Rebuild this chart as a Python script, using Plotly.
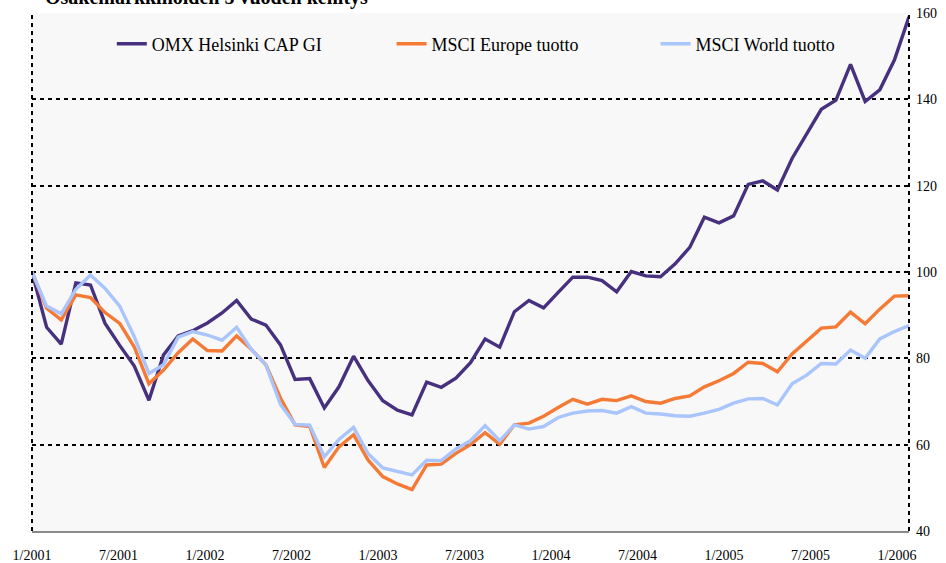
import plotly.graph_objects as go

# Monthly observations 1/2001 ... 1/2006 (index = months since 1/2001)
months = [f"{m}/{y}" for y in range(2001, 2007) for m in range(1, 13)][:61]

omx = [100, 87.2, 83.3, 97.5, 97.0, 88.1, 83.0, 78.2, 70.3, 80.8,
       85.2, 86.4, 88.2, 90.5, 93.4, 89.1, 87.7, 83.1, 75.1, 75.3,
       68.5, 73.4, 80.5, 74.8, 70.2, 68.0, 66.9, 74.5, 73.3, 75.4,
       79.0, 84.5, 82.6, 90.8, 93.4, 91.7, 95.3, 98.8, 98.8, 98.0,
       95.4, 100.1, 99.1, 98.9, 101.9, 105.7, 112.7, 111.4, 113.0, 120.3,
       121.1, 119.0, 126.3, 132.0, 137.7, 139.8, 148.1, 139.5, 142.2, 149.1,
       159.1]

europe = [100, 91.6, 88.9, 94.7, 94.1, 90.6, 88.1, 82.6, 74.1, 77.3,
          81.3, 84.5, 81.8, 81.7, 85.2, 82.1, 78.5, 70.8, 64.6, 64.2,
          54.7, 59.5, 62.3, 56.4, 52.6, 50.9, 49.6, 55.3, 55.5, 58.0,
          60.0, 62.8, 60.1, 64.6, 65.0, 66.6, 68.6, 70.5, 69.4, 70.5,
          70.2, 71.3, 70.0, 69.6, 70.7, 71.3, 73.4, 74.8, 76.5, 79.1,
          78.8, 76.9, 81.0, 83.9, 87.0, 87.3, 90.7, 88.0, 91.4, 94.4,
          94.5]

world = [100, 92.1, 90.3, 96.0, 99.3, 96.2, 92.1, 85.0, 76.5, 78.5,
         84.9, 86.2, 85.4, 84.2, 87.2, 82.1, 78.5, 69.3, 64.7, 64.5,
         57.2, 61.2, 64.0, 57.9, 54.6, 53.7, 53.0, 56.4, 56.3, 59.0,
         60.9, 64.4, 60.9, 64.6, 63.6, 64.2, 66.3, 67.3, 67.8, 67.9,
         67.3, 68.8, 67.3, 67.1, 66.7, 66.6, 67.3, 68.2, 69.6, 70.6,
         70.7, 69.2, 74.1, 76.1, 78.8, 78.7, 81.9, 80.0, 84.5, 86.2,
         87.6]

tick_labels = ["1/2001", "7/2001", "1/2002", "7/2002", "1/2003", "7/2003",
               "1/2004", "7/2004", "1/2005", "7/2005", "1/2006"]
y_ticks = [40, 60, 80, 100, 120, 140, 160]

series_names = ["OMX Helsinki CAP GI", "MSCI Europe tuotto", "MSCI World tuotto"]
colors = ["#47317F", "#F57A35", "#A9C5FC"]

x = list(range(len(omx)))
SERIF = "Liberation Serif"

fig = go.Figure()
legend_ids = ["legend", "legend2", "legend3"]
for vals, name, col, lg in zip([omx, europe, world], series_names, colors, legend_ids):
    fig.add_trace(go.Scatter(x=x, y=vals, mode="lines", name=name,
                             line=dict(color=col, width=3.4),
                             legend=lg, showlegend=True))

# label positions in the source are spaced slightly tighter than 6 months
label_pos = [i * 6 * 0.9863 for i in range(len(tick_labels))]

leg_common = dict(y=0.94, xanchor="left", yanchor="middle", orientation="h",
                  bgcolor="rgba(0,0,0,0)", font=dict(size=18, family=SERIF))

fig.update_layout(
    width=946, height=563,
    margin=dict(l=32, r=37, t=13, b=32, autoexpand=False),
    showlegend=True,
    paper_bgcolor="white",
    plot_bgcolor="#f8f8f8",
    font=dict(family=SERIF, color="black"),
    xaxis=dict(range=[0, 60], tickvals=label_pos, ticktext=tick_labels,
               showgrid=False, zeroline=False, showline=True, automargin=False,
               linecolor="#8a8a8a", linewidth=2, ticks="",
               tickfont=dict(size=14, family=SERIF, color="black"), ticklabelstandoff=10),
    yaxis=dict(range=[40, 160], tickvals=y_ticks, side="right", automargin=False,
               showgrid=True, gridcolor="black", gridwidth=2, griddash="4px,4px",
               zeroline=False, showline=False, ticks="",
               tickfont=dict(size=14, family=SERIF, color="black"), ticklabelstandoff=6),
    legend=dict(x=0.091, **leg_common),
    legend2=dict(x=0.410, **leg_common),
    legend3=dict(x=0.711, **leg_common),
    shapes=[
        dict(type="line", xref="paper", yref="paper", x0=0, x1=0, y0=0, y1=1,
             line=dict(color="black", width=2, dash="4px,4px")),
        dict(type="line", xref="paper", yref="paper", x0=1, x1=1, y0=0, y1=1,
             line=dict(color="black", width=2, dash="4px,4px")),
    ],
    annotations=[
        dict(text="<b>Osakemarkkinoiden 5 vuoden kehitys</b>", xref="paper", yref="paper",
             x=0.013, y=1.003, xanchor="left", yanchor="bottom", showarrow=False,
             font=dict(size=20, family=SERIF, color="black")),
    ],
)

fig.write_html("out.html", config={"displayModeBar": False},
               post_script="document.body.style.margin='0';document.body.style.padding='0';")
